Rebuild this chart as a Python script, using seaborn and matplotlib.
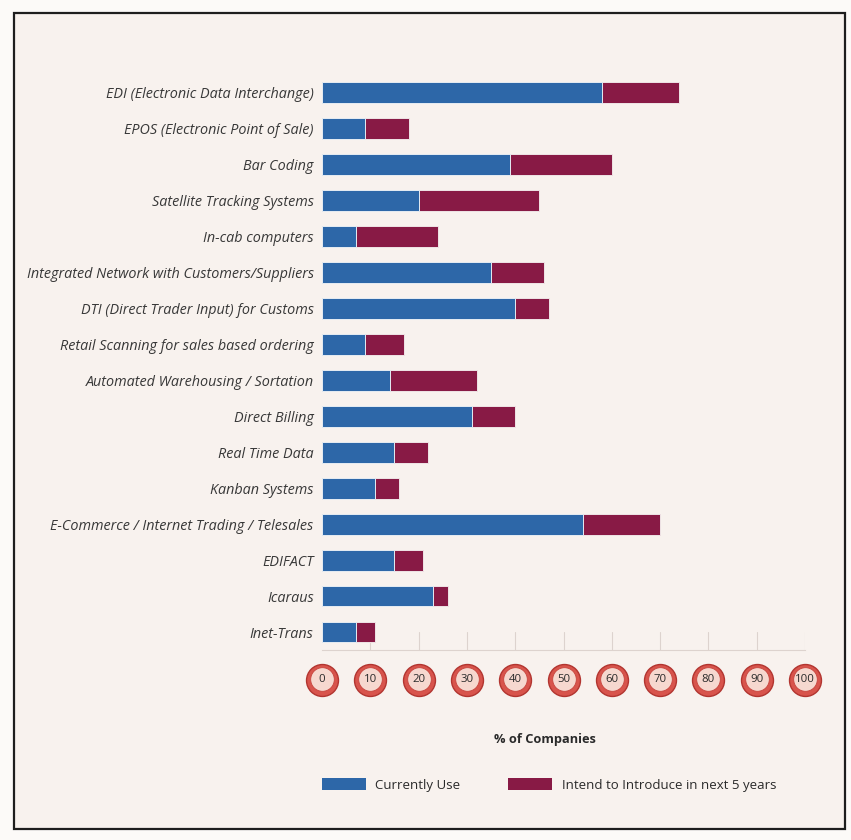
import matplotlib
matplotlib.use("Agg")
import matplotlib.pyplot as plt
from matplotlib.patches import Rectangle, Patch
import seaborn as sns
import pandas as pd
import numpy as np

categories = [
    "EDI (Electronic Data Interchange)",
    "EPOS (Electronic Point of Sale)",
    "Bar Coding",
    "Satellite Tracking Systems",
    "In-cab computers",
    "Integrated Network with Customers/Suppliers",
    "DTI (Direct Trader Input) for Customs",
    "Retail Scanning for sales based ordering",
    "Automated Warehousing / Sortation",
    "Direct Billing",
    "Real Time Data",
    "Kanban Systems",
    "E-Commerce / Internet Trading / Telesales",
    "EDIFACT",
    "Icaraus",
    "Inet-Trans",
]
currently_use = [58, 9, 39, 20, 7, 35, 40, 9, 14, 31, 15, 11, 54, 15, 23, 7]
intend_5yrs = [16, 9, 21, 25, 17, 11, 7, 8, 18, 9, 7, 5, 16, 6, 3, 4]
x_ticks = [0, 10, 20, 30, 40, 50, 60, 70, 80, 90, 100]
series_labels = ["Currently Use", "Intend to Introduce in next 5 years"]
x_label = "% of Companies"

BLUE = "#2d67a8"
RED = "#881a45"
CREAM = "#f8f2ee"

sns.set_theme(style="white")
plt.rcParams["font.family"] = ["Open Sans", "DejaVu Sans"]

df = pd.DataFrame({
    "category": categories,
    "current": currently_use,
    "total": np.array(currently_use) + np.array(intend_5yrs),
})

W, H = 851, 840
fig = plt.figure(figsize=(W / 100, H / 100), dpi=100)
fig.patch.set_facecolor("#fcfaf8")

# framed panel
frame = Rectangle((14 / W, 1 - 829 / H), (845 - 14) / W, (829 - 13) / H,
                  transform=fig.transFigure, facecolor=CREAM,
                  edgecolor="#1e1e1e", linewidth=1.6, zorder=-10)
fig.patches.append(frame)

ax_left, ax_right = 322 / W, 805 / W
ax_bottom, ax_top = 1 - 650 / H, 1 - 64 / H
ax = fig.add_axes([ax_left, ax_bottom, ax_right - ax_left, ax_top - ax_bottom])
ax.set_zorder(5)
ax.set_facecolor("none")
ax.set_axisbelow(False)

sns.barplot(data=df, y="category", x="total", orient="h", color=RED,
            width=0.58, edgecolor="#efe4e6", linewidth=0.7, saturation=1, ax=ax)
sns.barplot(data=df, y="category", x="current", orient="h", color=BLUE,
            width=0.58, edgecolor="#e6edf3", linewidth=0.7, saturation=1, ax=ax)

ax.set_xlim(0, 100)
ax.set_ylim(len(categories) - 0.5, -0.8)
ax.set_ylabel("")
ax.set_xlabel("")

for s in ["top", "right"]:
    ax.spines[s].set_visible(False)
ax.spines["left"].set_visible(False)
ax.spines["bottom"].set_color("#ddd3ce")
ax.spines["bottom"].set_linewidth(0.8)
ax.spines["bottom"].set_zorder(0.5)

# faint short grid marks at the bottom
for xv in x_ticks[1:]:
    ax.axvline(xv, ymin=0, ymax=0.03, color="#ddd3ce", linewidth=0.8, zorder=0)

ax.tick_params(axis="y", length=0, pad=6)
for lab in ax.get_yticklabels():
    lab.set_fontstyle("italic")
    lab.set_fontsize(10.4)
    lab.set_color("#383838")

# circular tick badges
ax.set_xticks(x_ticks)
ax.set_xticklabels([str(v) for v in x_ticks])
ax.tick_params(axis="x", length=0, pad=17.5, labelsize=8.2, labelcolor="#2a2a2a")
for lab in ax.get_xticklabels():
    lab.set_verticalalignment("top")
trans = ax.get_xaxis_transform()
ybadge = -(680 - 650) / (650 - 64)
ax.scatter(x_ticks, [ybadge] * len(x_ticks), s=23 ** 2, transform=trans,
           color="#d8544c", edgecolor="#b23530", linewidth=1.0, clip_on=False, zorder=1.1)
ax.scatter(x_ticks, [ybadge + 0.002] * len(x_ticks), s=17 ** 2, transform=trans,
           color="#f6d8cf", edgecolor="#c7453e", linewidth=0.6, clip_on=False, zorder=1.2)

fig.text(545 / W, 1 - 740 / H, x_label, ha="center", va="center",
         fontsize=9.2, fontweight="bold", color="#2a2a2a")

handles = [Patch(facecolor=BLUE, edgecolor="none"), Patch(facecolor=RED, edgecolor="none")]
fig.legend(handles, series_labels, loc="center left",
           bbox_to_anchor=(322 / W, 1 - 785 / H), ncol=2, frameon=False,
           fontsize=9.5, handlelength=3.3, handleheight=1.0, handletextpad=0.75,
           columnspacing=3.6, borderpad=0, borderaxespad=0, labelcolor="#2a2a2a")

fig.savefig("out.png", dpi=100, facecolor=fig.get_facecolor())
